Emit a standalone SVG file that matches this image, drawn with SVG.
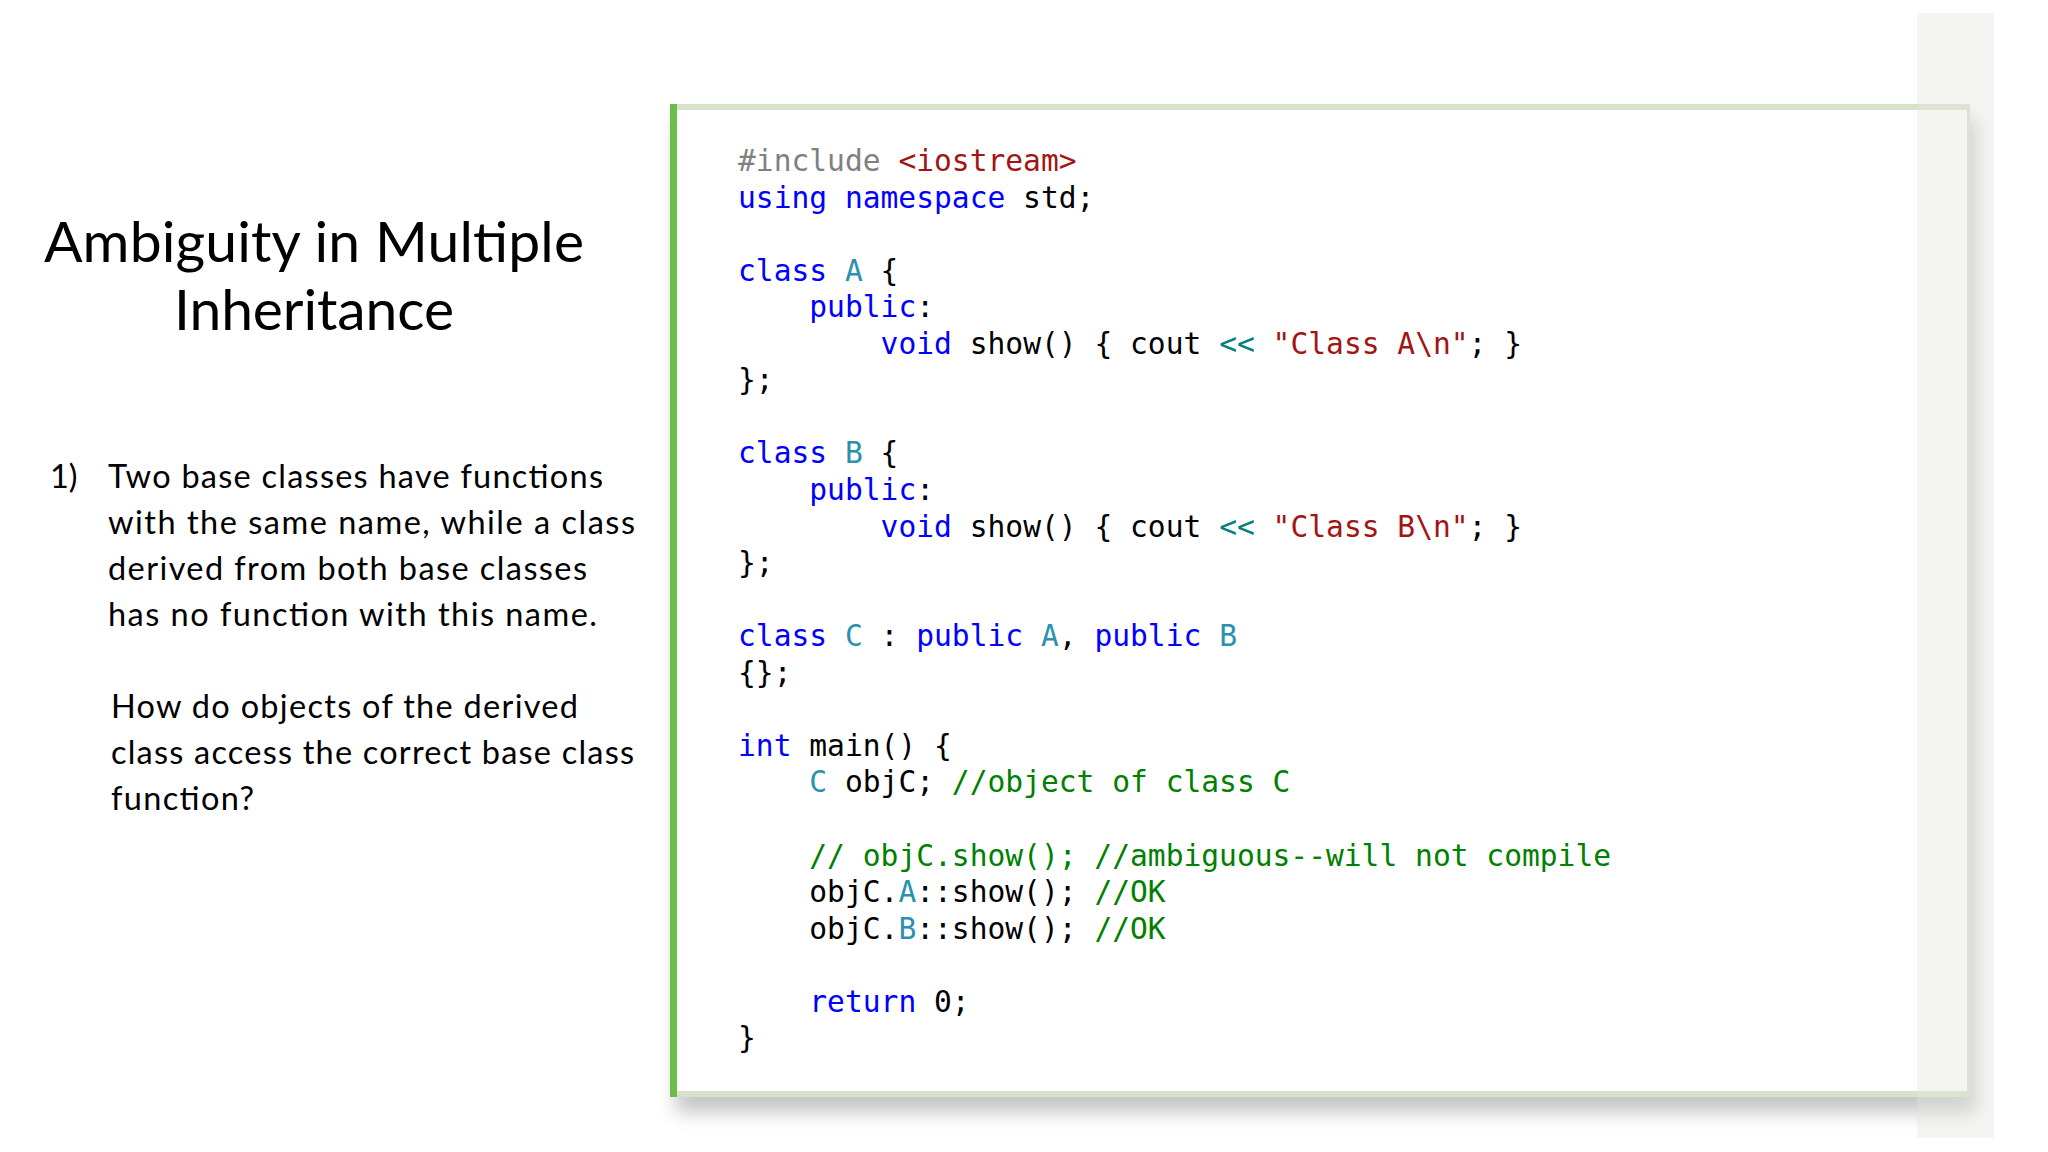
<svg xmlns="http://www.w3.org/2000/svg" width="2048" height="1152" viewBox="0 0 2048 1152">
<defs>
<filter id="shadow" x="-5%" y="-5%" width="115%" height="115%">
<feDropShadow dx="6" dy="16" stdDeviation="9" flood-color="#000" flood-opacity="0.22"/>
</filter>
<style>
.title{font-family:Lato,"Noto Sans","Liberation Sans",sans-serif;font-size:57px;fill:#000;text-anchor:middle}
.body{font-family:Lato,"Noto Sans","Liberation Sans",sans-serif;font-size:32.5px;fill:#000}
.code{font-family:"DejaVu Sans Mono","Liberation Mono",monospace;font-size:29.6px;fill:#000}
.kw{fill:#0000ff}
.ty{fill:#2b91af}
.str{fill:#a31515}
.pp{fill:#808080}
.op{fill:#008080}
.cm{fill:#008000}
.edge{fill:#d8e1ca}
</style>
</defs>
<rect width="2048" height="1152" fill="#ffffff"/>

<g id="title">
<text class="title" x="314" y="262" textLength="540">Ambiguity in Multiple</text>
<text class="title" x="314" y="330" textLength="280">Inheritance</text>
</g>

<g id="question">
<text class="body" x="50" y="488">1)</text>
<text class="body" x="108" y="488" textLength="495">Two base classes have functions</text>
<text class="body" x="108" y="534" textLength="527">with the same name, while a class</text>
<text class="body" x="108" y="580" textLength="479">derived from both base classes</text>
<text class="body" x="108" y="626" textLength="489">has no function with this name.</text>
<text class="body" x="111" y="718" textLength="467">How do objects of the derived</text>
<text class="body" x="111" y="764" textLength="523">class access the correct base class</text>
<text class="body" x="111" y="810" textLength="143">function?</text>
</g>

<g id="code-panel">
<rect x="670" y="104" width="1300" height="993" fill="#ffffff" filter="url(#shadow)"/>
<rect class="edge" x="670" y="104" width="1300" height="6"/>
<rect class="edge" x="670" y="1091" width="1300" height="6"/>
<rect class="edge" x="1967" y="104" width="3" height="993"/>
<rect x="670" y="104" width="7" height="993" fill="#6cbd4a"/>
<g class="code">
<text x="738" y="171"><tspan class="pp">#include</tspan> <tspan class="str">&lt;iostream&gt;</tspan></text>
<text x="738" y="207.6"><tspan class="kw">using</tspan> <tspan class="kw">namespace</tspan> std;</text>
<text x="738" y="280.7"><tspan class="kw">class</tspan> <tspan class="ty">A</tspan> {</text>
<text x="809.3" y="317.2"><tspan class="kw">public</tspan>:</text>
<text x="880.6" y="353.8"><tspan class="kw">void</tspan> show() { cout <tspan class="op">&lt;&lt;</tspan> <tspan class="str">"Class A\n"</tspan>; }</text>
<text x="738" y="390.3">};</text>
<text x="738" y="463.4"><tspan class="kw">class</tspan> <tspan class="ty">B</tspan> {</text>
<text x="809.3" y="500"><tspan class="kw">public</tspan>:</text>
<text x="880.6" y="536.5"><tspan class="kw">void</tspan> show() { cout <tspan class="op">&lt;&lt;</tspan> <tspan class="str">"Class B\n"</tspan>; }</text>
<text x="738" y="573.1">};</text>
<text x="738" y="646.2"><tspan class="kw">class</tspan> <tspan class="ty">C</tspan> : <tspan class="kw">public</tspan> <tspan class="ty">A</tspan>, <tspan class="kw">public</tspan> <tspan class="ty">B</tspan></text>
<text x="738" y="682.7">{};</text>
<text x="738" y="755.8"><tspan class="kw">int</tspan> main() {</text>
<text x="809.3" y="792.4"><tspan class="ty">C</tspan> objC; <tspan class="cm">//object of class C</tspan></text>
<text x="809.3" y="865.5"><tspan class="cm">// objC.show(); //ambiguous--will not compile</tspan></text>
<text x="809.3" y="902">objC.<tspan class="ty">A</tspan>::show(); <tspan class="cm">//OK</tspan></text>
<text x="809.3" y="938.6">objC.<tspan class="ty">B</tspan>::show(); <tspan class="cm">//OK</tspan></text>
<text x="809.3" y="1011.7"><tspan class="kw">return</tspan> 0;</text>
<text x="738" y="1048.2">}</text>
</g>
</g>

<rect id="side-band" x="1917" y="13" width="77" height="1125" fill="#e4e7e1" opacity="0.4"/>
</svg>
